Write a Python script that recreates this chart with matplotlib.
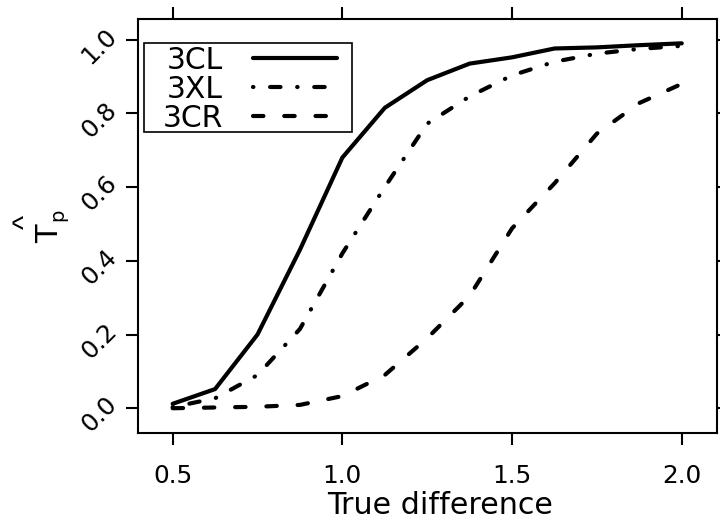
import matplotlib
matplotlib.use("Agg")
import matplotlib.pyplot as plt
import matplotlib.transforms as mtransforms
from matplotlib.patches import Rectangle

# values
true_diff = [0.5, 0.625, 0.75, 0.875, 1.0, 1.125, 1.25, 1.375, 1.5, 1.625, 1.75, 1.875, 2.0]
tp_3cl = [0.012, 0.052, 0.20, 0.43, 0.68, 0.815, 0.89, 0.935, 0.952, 0.976, 0.979, 0.985, 0.99]
tp_3xl = [0.003, 0.027, 0.09, 0.215, 0.42, 0.60, 0.772, 0.846, 0.903, 0.94, 0.962, 0.975, 0.983]
tp_3cr = [0.0, 0.002, 0.004, 0.009, 0.033, 0.09, 0.19, 0.305, 0.488, 0.61, 0.745, 0.828, 0.88]
series_names = ["3CL", "3XL", "3CR"]
x_ticks = [0.5, 1.0, 1.5, 2.0]
y_ticks = [0.0, 0.2, 0.4, 0.6, 0.8, 1.0]

plt.rcParams["font.family"] = ["DejaVu Sans"]

W, H = 720, 521
fig = plt.figure(figsize=(W / 100, H / 100), dpi=100)
ax = fig.add_axes([137.7 / W, 1 - 433.3 / H, (716.7 - 137.7) / W, (433.3 - 19) / H])

lw = 3
ax.plot(true_diff, tp_3cl, color="black", lw=lw, solid_capstyle="round",
        solid_joinstyle="round", label=series_names[0])
ax.plot(true_diff, tp_3xl, color="black", lw=lw, linestyle=(0, (0.1, 4.0, 2.5, 4.0)),
        dash_capstyle="round", label=series_names[1])
ax.plot(true_diff, tp_3cr, color="black", lw=lw, linestyle=(0, (2.5, 5.0)),
        dash_capstyle="round", label=series_names[2])

ax.set_xlim(0.397, 2.103)
ax.set_ylim(-0.068, 1.056)
ax.set_xticks(x_ticks)
ax.set_yticks(y_ticks)
ax.set_xticklabels([f"{v:.1f}" for v in x_ticks])
ax.set_yticklabels([f"{v:.1f}" for v in y_ticks])

for s in ax.spines.values():
    s.set_linewidth(1.5)
ax.tick_params(which="both", direction="out", length=8.6, width=1.5,
               top=True, right=True, labeltop=False, labelright=False)
ax.tick_params(axis="x", labelsize=17.8, pad=13.2)
ax.tick_params(axis="y", labelsize=17.8, pad=9.4)
# rotated y labels sit a bit above their ticks in the reference
lift = mtransforms.ScaledTranslation(0, 7.5 / 100, fig.dpi_scale_trans)
for lab in ax.get_yticklabels():
    lab.set_rotation(45)
    lab.set_ha("right")
    lab.set_va("center")
    lab.set_rotation_mode("anchor")
    lab.set_transform(lab.get_transform() + lift)

ax.set_xlabel("True difference", fontsize=21.7, va="top")
ax.xaxis.set_label_coords(0.523, -0.1388)

# y label: T with hat and subscript p, rotated
fig.text(49.2 / W, 1 - 234 / H, "T", rotation=90, ha="center", va="center", fontsize=22)
fig.text(57.5 / W, 1 - 215 / H, "p", rotation=90, ha="center", va="center", fontsize=14)
fig.text(25.6 / W, 1 - 221.5 / H, "^", rotation=90, ha="center", va="center",
         fontsize=21.7, family=["Liberation Sans"])

leg = ax.legend(loc="upper left", bbox_to_anchor=(0.0432, 0.9353), borderpad=0,
                borderaxespad=0, frameon=False, markerfirst=False, fontsize=21.5,
                handlelength=2.81, handletextpad=0.99, labelspacing=0.0)
ax.add_patch(Rectangle((0.0109, 0.728), 0.3587, 0.2133, transform=ax.transAxes,
                       fill=False, lw=1.2, edgecolor="black", zorder=5))

fig.savefig("out.png", dpi=100)
